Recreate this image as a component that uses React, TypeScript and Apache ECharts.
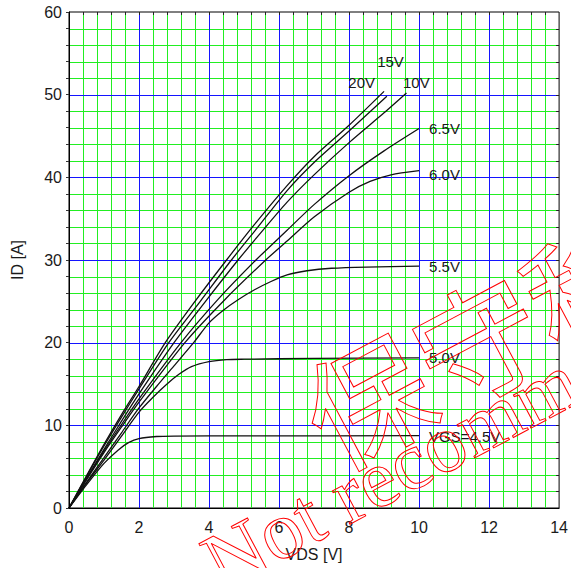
import React, { useEffect, useRef } from "react";
import * as echarts from "echarts";

// Axis ranges
const X_MIN = 0;
const X_MAX = 14;
const X_STEP = 2;
const X_MINOR = 0.4;
const Y_MIN = 0;
const Y_MAX = 60;
const Y_STEP = 10;
const Y_MINOR = 2;

// Curve names (gate voltages)
const curveNames = ["20V", "15V", "10V", "6.5V", "6.0V", "5.5V", "5.0V", "VGS=4.5V"];

// [VDS (V), ID (A)]
const vgs20V: number[][] = [
  [0, 0], [0.5, 3.9], [1, 7.7], [1.5, 11.3], [2, 14.7], [2.75, 20], [3.6, 25], [4.5, 30],
  [5.3, 34.3], [6.23, 39], [7, 42.5], [8, 46.3], [9, 50.4],
];
const vgs15V: number[][] = [
  [0, 0], [0.5, 3.8], [1, 7.5], [1.5, 11], [2, 14.4], [2.85, 20], [3.75, 25], [4.64, 30],
  [5.4, 34], [6.23, 38.4], [7, 41.8], [8, 45.6], [9.08, 49.8],
];
const vgs10V: number[][] = [
  [0, 0], [0.5, 3.6], [1, 7.1], [1.5, 10.5], [2, 13.8], [3.0, 20], [3.9, 25], [4.83, 30],
  [5.5, 33.4], [6.23, 37.0], [7, 40.3], [8, 44.2], [9, 47.8], [9.64, 50.2],
];
const vgs6_5V: number[][] = [
  [0, 0], [0.5, 3.5], [1, 6.9], [1.5, 10.1], [2, 13.2], [3.2, 20], [4.25, 25.2], [5.34, 30],
  [6.23, 33.6], [7, 36.7], [8, 40.2], [9, 43.2], [10, 45.9],
];
const vgs6_0V: number[][] = [
  [0, 0], [0.5, 3.4], [1, 6.7], [1.5, 9.8], [2, 12.8], [3.31, 20], [4.45, 25.2], [5.62, 30],
  [6.23, 32.3], [7, 35.2], [8, 38.2], [8.6, 39.5], [9.2, 40.3], [10, 40.8],
];
const vgs5_5V: number[][] = [
  [0, 0], [0.5, 3.1], [1, 6.1], [1.5, 9.1], [2, 12.1], [2.5, 14.7], [3, 17.2], [3.56, 20],
  [4, 22.4], [4.4, 23.9], [4.83, 25.2], [5.3, 26.4], [5.77, 27.4], [6.23, 28.2], [6.8, 28.7],
  [7.5, 29.0], [8.5, 29.15], [10, 29.25],
];
const vgs5_0V: number[][] = [
  [0, 0], [0.5, 3.0], [1, 5.8], [1.5, 8.7], [2, 11.6], [2.4, 13.4], [2.8, 15.0], [3.15, 16.2],
  [3.5, 17.1], [4, 17.7], [4.5, 17.95], [5, 18.0], [7, 18.1], [10, 18.15],
];
const vgs4_5V: number[][] = [
  [0, 0], [0.5, 2.8], [1, 5.4], [1.4, 7.0], [1.7, 7.9], [2, 8.4], [2.5, 8.65], [3, 8.7],
  [5, 8.72], [10, 8.75],
];

const curveData = [vgs20V, vgs15V, vgs10V, vgs6_5V, vgs6_0V, vgs5_5V, vgs5_0V, vgs4_5V];

// label placement (style only)
const labelOffsets: [number, number][] = [
  [-9, -9.3], [-9.7, -35.3], [-3.5, -11], [10, 0], [10, 4], [10, 0.5], [10, 0], [10, 1],
];
const labelAligns = ["right", "left", "left", "left", "left", "left", "left", "left"];

const FONT = "'Liberation Sans', Arial, sans-serif";
const TEXT_COLOR = "#1a1a1a";
const GREEN = "#22ee22";
const BLUE = "#1414ff";

// grid-line positions (interior only), derived from the axis steps
const isMajor = (v: number, step: number) => Math.abs(v / step - Math.round(v / step)) < 1e-6;
const xMinorLines: number[] = [];
const xMajorLines: number[] = [];
for (let k = 1; k < Math.round((X_MAX - X_MIN) / X_MINOR); k++) {
  const v = +(X_MIN + k * X_MINOR).toFixed(4);
  (isMajor(v, X_STEP) ? xMajorLines : xMinorLines).push(v);
}
const yMinorLines: number[] = [];
const yMajorLines: number[] = [];
for (let k = 1; k < Math.round((Y_MAX - Y_MIN) / Y_MINOR); k++) {
  const v = +(Y_MIN + k * Y_MINOR).toFixed(4);
  (isMajor(v, Y_STEP) ? yMajorLines : yMinorLines).push(v);
}

function gridData(xs: number[], ys: number[]) {
  // [x, y, orientation] : 0 = vertical line at x, 1 = horizontal line at y
  return [...xs.map((v) => [v, Y_MIN, 0]), ...ys.map((v) => [X_MIN, v, 1])];
}

function makeGridRender(color: string) {
  return (params: any, api: any) => {
    const orient = api.value(2);
    if (orient === 0) {
      const v = api.value(0);
      const p1 = api.coord([v, Y_MIN]);
      const p2 = api.coord([v, Y_MAX]);
      const x = Math.round(p1[0]) + 0.5;
      return {
        type: "group",
        children: [
          { type: "line", shape: { x1: x, y1: p1[1], x2: x, y2: p2[1] }, style: { stroke: color, lineWidth: 1 } },
          { type: "line", shape: { x1: x, y1: p2[1], x2: x, y2: p2[1] + 3 }, style: { stroke: "#222", lineWidth: 1 } },
        ],
      };
    }
    const v = api.value(1);
    const p1 = api.coord([X_MIN, v]);
    const p2 = api.coord([X_MAX, v]);
    const y = Math.round(p1[1]) + 0.5;
    return {
      type: "group",
      children: [
        { type: "line", shape: { x1: p1[0], y1: y, x2: p2[0], y2: y }, style: { stroke: color, lineWidth: 1 } },
        { type: "line", shape: { x1: p2[0] - 3, y1: y, x2: p2[0], y2: y }, style: { stroke: "#222", lineWidth: 1 } },
      ],
    };
  };
}

export default function App() {
  const ref = useRef<HTMLDivElement>(null);
  useEffect(() => {
    if (!ref.current) return;
    const chart = echarts.init(ref.current, undefined, { renderer: "svg" });
    const rot = (28 * Math.PI) / 180;
    const option: any = {
      animation: false,
      backgroundColor: "#ffffff",
      grid: {
        left: 69,
        right: 6,
        top: 12,
        bottom: 60,
        containLabel: false,
        show: true,
        borderColor: "#000",
        borderWidth: 1,
        backgroundColor: "transparent",
      },
      xAxis: {
        type: "value",
        min: X_MIN,
        max: X_MAX,
        interval: X_STEP,
        position: "bottom",
        name: "VDS [V]",
        nameLocation: "middle",
        nameGap: 38,
        nameTextStyle: { fontFamily: FONT, fontSize: 16, color: TEXT_COLOR },
        axisLine: { show: true, onZero: false, lineStyle: { color: "#000", width: 1 } },
        axisTick: { show: false },
        minorTick: { show: false },
        axisLabel: { fontFamily: FONT, fontSize: 16, color: TEXT_COLOR, margin: 11 },
        splitLine: { show: false },
        minorSplitLine: { show: false },
        z: 10,
      },
      yAxis: {
        type: "value",
        min: Y_MIN,
        max: Y_MAX,
        interval: Y_STEP,
        position: "left",
        name: "ID [A]",
        nameLocation: "middle",
        nameGap: 44,
        nameTextStyle: { fontFamily: FONT, fontSize: 16, color: TEXT_COLOR },
        axisLine: { show: true, onZero: false, lineStyle: { color: "#000", width: 1 } },
        axisTick: { show: true, length: 3, lineStyle: { color: "#333" } },
        minorTick: { show: true, splitNumber: 5, length: 3, lineStyle: { color: "#333" } },
        axisLabel: { fontFamily: FONT, fontSize: 16, color: TEXT_COLOR, margin: 7 },
        splitLine: { show: false },
        minorSplitLine: { show: false },
        z: 10,
      },
      series: [
        {
          type: "custom",
          coordinateSystem: "cartesian2d",
          silent: true,
          z: 1,
          encode: { x: 0, y: 1 },
          data: gridData(xMinorLines, yMinorLines),
          renderItem: makeGridRender(GREEN),
        },
        {
          type: "custom",
          coordinateSystem: "cartesian2d",
          silent: true,
          z: 2,
          encode: { x: 0, y: 1 },
          data: gridData(xMajorLines, yMajorLines),
          renderItem: makeGridRender(BLUE),
        },
        ...curveData.map((d, k) => ({
          type: "line",
          name: curveNames[k],
          data: d,
          showSymbol: false,
          symbol: "none",
          smooth: 0.25,
          lineStyle: { color: "#111", width: 1.3 },
          itemStyle: { color: "#111" },
          z: 3,
          endLabel: {
            show: true,
            formatter: curveNames[k],
            distance: 0,
            offset: labelOffsets[k],
            align: labelAligns[k],
            verticalAlign: "middle",
            fontFamily: FONT,
            fontSize: 15,
            color: TEXT_COLOR,
          },
        })),
      ],
      graphic: [
        {
          type: "text",
          x: 310,
          y: 425,
          rotation: rot,
          silent: true,
          z: 20,
          style: {
            text: "保守移行品",
            fontFamily: "'Noto Sans CJK JP'",
            fontSize: 125,
            fontWeight: "normal",
            fill: "none",
            stroke: "#ff0000",
            lineWidth: 1,
            align: "left",
            verticalAlign: "middle",
          },
        },
        {
          type: "text",
          x: 209,
          y: 568,
          rotation: rot,
          silent: true,
          z: 20,
          style: {
            text: "Not recommended",
            fontFamily: "'Liberation Serif', 'Times New Roman', serif",
            fontSize: 82,
            fill: "none",
            stroke: "#ff0000",
            lineWidth: 1,
            align: "left",
            verticalAlign: "middle",
          },
        },
      ],
    };
    chart.setOption(option);
    return () => chart.dispose();
  }, []);
  return (
    <div
      ref={ref}
      style={{ position: "fixed", left: 0, top: 0, width: 571, height: 568, background: "#fff" }}
    />
  );
}
